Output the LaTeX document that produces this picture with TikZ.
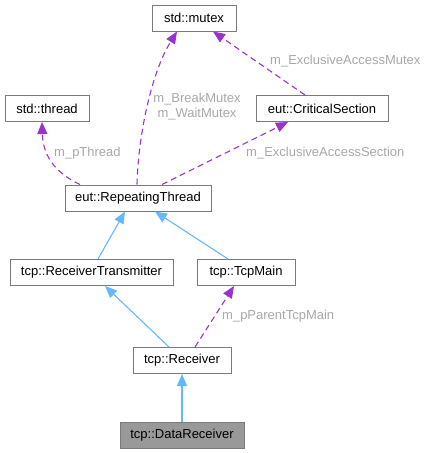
\documentclass[tikz,border=0pt]{standalone}
\usepackage{fontspec}
\setmainfont{Liberation Sans}
\usetikzlibrary{arrows.meta}
\definecolor{boxborder}{HTML}{7A7A7A}
\definecolor{inh}{HTML}{63B8FF}
\definecolor{usage}{HTML}{9A32CD}
\definecolor{lbl}{HTML}{A8A8A8}
\definecolor{cur}{HTML}{999999}
\tikzset{
  cls/.style={draw=boxborder, line width=1pt, fill=white, minimum height=26pt, inner sep=0pt, font=\fontsize{13}{15}\selectfont},
  inhedge/.style={draw=inh, line width=1.1pt, -{Triangle[length=12pt,width=10pt]}},
  useedge/.style={draw=usage, line width=1.1pt, dash pattern=on 6pt off 4pt, -{Triangle[length=12pt,width=10pt]}},
  elabel/.style={text=lbl, inner sep=0pt, font=\fontsize{13}{15}\selectfont, align=center}
}
\begin{document}
\begin{tikzpicture}[x=1pt,y=-1pt]
\useasboundingbox (0,0) rectangle (429,453);
\node[cls, minimum width=84pt] (mutex) at (194,18) {std::mutex};
\node[cls, minimum width=84pt] (thread) at (47,108.5) {std::thread};
\node[cls, minimum width=132pt] (crit) at (322,108.5) {eut::CriticalSection};
\node[cls, minimum width=146pt] (rep) at (138,198) {eut::RepeatingThread};
\node[cls, minimum width=163pt] (rt) at (91.5,272.5) {tcp::ReceiverTransmitter};
\node[cls, minimum width=98pt] (tcpmain) at (246,272.5) {tcp::TcpMain};
\node[cls, minimum width=98pt] (recv) at (182,360.5) {tcp::Receiver};
\node[cls, minimum width=124pt, fill=cur] (data) at (182,435) {tcp::DataReceiver};

\draw[useedge] ([xshift=-1pt]rep.north) .. controls (138,140) and (150,75) .. ([xshift=-17pt]mutex.south);
\draw[useedge] ([xshift=-17pt]crit.north) -- ([xshift=19pt]mutex.south);
\draw[useedge] ([xshift=-58pt]rep.north) .. controls (60,175) and (43,160) .. ([xshift=-5pt]thread.south);
\draw[useedge] ([xshift=24pt]rep.north) -- ([xshift=-34pt]crit.south);
\draw[inhedge] ([xshift=6.5pt]rt.north) -- ([xshift=-13pt]rep.south);
\draw[inhedge] ([xshift=-18pt]tcpmain.north) -- ([xshift=17pt]rep.south);
\draw[inhedge] ([xshift=-13pt]recv.north) -- ([xshift=13.5pt]rt.south);
\draw[useedge] ([xshift=13pt]recv.north) -- ([xshift=-12pt]tcpmain.south);
\draw[inhedge] (data.north) -- (recv.south);

\node[elabel, anchor=west] (l1) at (270,61) {m\_ExclusiveAccessMutex};
\node[elabel] (l2) at (197,106.5) {m\_BreakMutex\\m\_WaitMutex};
\node[elabel, anchor=west] (l3) at (54,153) {m\_pThread};
\node[elabel, anchor=west] (l4) at (246,153) {m\_ExclusiveAccessSection};
\node[elabel, anchor=west] (l5) at (222,316) {m\_pParentTcpMain};
\end{tikzpicture}
\end{document}
